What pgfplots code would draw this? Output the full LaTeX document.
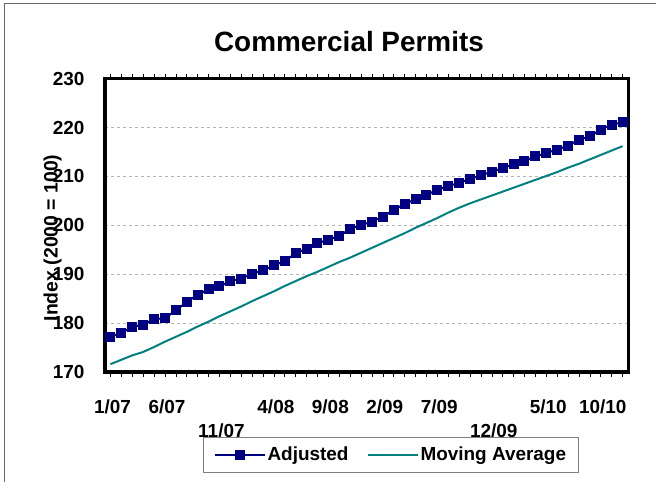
\documentclass[border=0pt]{standalone}
\usepackage{pgfplots}
\pgfplotsset{compat=1.18}
\usepackage{pgfplotstable}
\usepackage{fontspec}
\setmainfont{Liberation Sans}
\definecolor{adjnavy}{HTML}{000080}
\definecolor{mateal}{HTML}{008080}
\definecolor{gridgray}{HTML}{B4B4B4}

\pgfplotsset{
  adjleg/.style={legend image code/.code={\draw[mark repeat=2,mark phase=2,##1] plot coordinates {(0bp,0bp) (25bp,0bp) (50bp,0bp)};}},
  maleg/.style={legend image code/.code={\draw[##1] (0bp,0bp) -- (50bp,0bp);}},
}

\pgfplotstableread{
idx val
0 177.2
1 178.0
2 179.2
3 179.7
4 180.8
5 181.0
6 182.6
7 184.3
8 185.8
9 186.9
10 187.5
11 188.6
12 189.1
13 190.1
14 190.8
15 191.8
16 192.7
17 194.3
18 195.2
19 196.3
20 197.1
21 197.8
22 199.3
23 200.1
24 200.7
25 201.8
26 203.1
27 204.4
28 205.3
29 206.2
30 207.3
31 208.0
32 208.7
33 209.5
34 210.2
35 211.0
36 211.7
37 212.5
38 213.2
39 214.1
40 214.8
41 215.5
42 216.3
43 217.5
44 218.2
45 219.6
46 220.6
47 221.1
}\adjusted

\pgfplotstableread{
idx val
0 171.6
1 172.5
2 173.4
3 174.1
4 175.1
5 176.2
6 177.2
7 178.2
8 179.3
9 180.3
10 181.4
11 182.4
12 183.4
13 184.5
14 185.5
15 186.5
16 187.6
17 188.6
18 189.6
19 190.5
20 191.5
21 192.5
22 193.4
23 194.4
24 195.4
25 196.4
26 197.4
27 198.4
28 199.5
29 200.5
30 201.5
31 202.6
32 203.6
33 204.5
34 205.3
35 206.1
36 206.9
37 207.7
38 208.5
39 209.3
40 210.1
41 210.9
42 211.8
43 212.6
44 213.5
45 214.4
46 215.3
47 216.2
}\movavg

\begin{document}
\begin{tikzpicture}
\path[use as bounding box] (0bp,0bp) rectangle (656bp,482bp);
\draw[gray!80!black, line width=1bp] (4bp,0bp) -- (4bp,478bp) -- (656bp,478bp);
\begin{axis}[
  at={(105bp,110bp)}, anchor=south west,
  width=523bp, height=293.3bp, scale only axis,
  xmin=-0.5, xmax=47.5, ymin=170, ymax=230,
  ytick={170,180,...,230},
  xtick={0,5,15,20,25,30,40,45},
  xticklabels={1/07,6/07,4/08,9/08,2/09,7/09,5/10,10/10},
  extra x ticks={10,35},
  extra x tick labels={11/07,12/09},
  extra x tick style={grid=none, xticklabel style={yshift=-23.5bp}},
  minor xtick={0,...,47},
  tick align=outside,
  major tick length=5bp, minor tick length=5bp,
  xtick style={black, line width=0.6bp},
  ytick style={draw=none},
  ymajorgrids,
  grid style={gridgray, dashed, line width=0.6bp},
  axis line style={black, line width=3bp},
  /pgf/number format/assume math mode=true,
  every tick label/.append style={font=\fontsize{19}{22}\selectfont\bfseries},
  xticklabel style={yshift=-19.5bp, xshift=2bp},
  yticklabel style={xshift=-12bp},
  title={Commercial Permits},
  every axis title/.style={at={(axis description cs:0.4665,1.092)}, anchor=base, font=\fontsize{28}{32}\selectfont\bfseries},
  ylabel={Index (2000 = 100)},
  every axis y label/.style={at={(axis description cs:-0.1,0.457)}, rotate=90, anchor=center, font=\fontsize{19.5}{22}\selectfont\bfseries},
  legend columns=2,
  legend style={at={(axis description cs:0.5465,-0.2206)}, anchor=north, draw=gray, line width=0.8bp,
    font=\fontsize{19}{22}\selectfont\bfseries, inner xsep=10bp, inner ysep=8bp,
    /tikz/every even column/.append style={column sep=16bp}},
  legend cell align=left,
]
\addplot[adjnavy, line width=2bp, mark=square*, mark size=4bp, mark options={solid, fill=adjnavy}, adjleg]
  table[x=idx, y=val] {\adjusted};
\addlegendentry{Adjusted}
\addplot[mateal, line width=2bp, mark=none, maleg]
  table[x=idx, y=val] {\movavg};
\addlegendentry{Moving Average}
\end{axis}
\end{tikzpicture}
\end{document}
